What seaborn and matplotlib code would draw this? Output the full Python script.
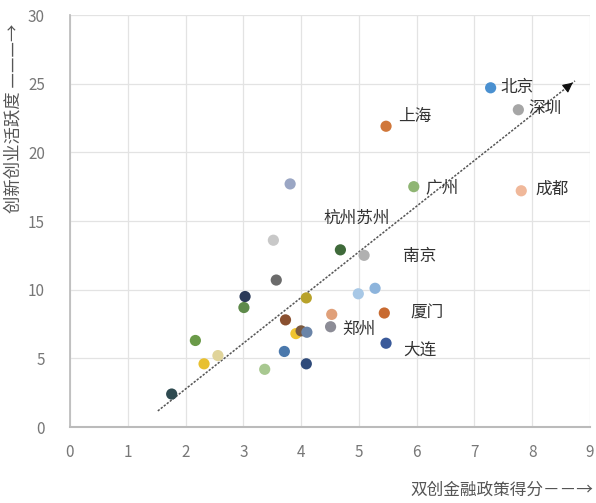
import pandas as pd
import seaborn as sns
import matplotlib.pyplot as plt

# 双创金融政策得分 vs 创新创业活跃度
policy_score = [7.28, 7.76, 5.47, 5.95, 7.81, 3.81, 3.52, 4.68, 5.09, 3.57,
                3.03, 3.01, 4.09, 4.99, 5.28, 3.73, 4.53, 5.44, 3.91, 4.00,
                4.10, 4.51, 3.71, 5.47, 4.09, 2.17, 2.32, 2.56, 3.37, 1.76]
activity = [24.7, 23.1, 21.9, 17.5, 17.2, 17.7, 13.6, 12.9, 12.5, 10.7,
            9.5, 8.7, 9.4, 9.7, 10.1, 7.8, 8.2, 8.3, 6.8, 7.0,
            6.9, 7.3, 5.5, 6.1, 4.6, 6.3, 4.6, 5.2, 4.2, 2.4]
point_colors = ['#4a90d0', '#a6a6a6', '#d0773a', '#8fb573', '#f0b89a', '#9aa6c4',
                '#c8c8c8', '#3f6a3a', '#b0b0b0', '#6b6b6b', '#2b3a58', '#5e8a4a',
                '#b8a22a', '#a8c8e6', '#8db4dc', '#8a5030', '#e0a07a', '#c86a30',
                '#f0c430', '#7a5a40', '#6a84a8', '#8c8c96', '#4a78ac', '#3a5a9a',
                '#2e4a7a', '#6a9a48', '#e8c030', '#e0d49a', '#a8c890', '#2e4a50']

# city labels and where they sit
city_names = ['北京', '深圳', '上海', '广州', '成都', '杭州苏州', '南京', '厦门', '郑州', '大连']
label_x = [7.45, 7.93, 5.68, 6.15, 8.05, 4.38, 5.77, 5.90, 4.72, 5.77]
label_y = [24.7, 23.2, 22.6, 17.4, 17.3, 15.2, 12.4, 8.3, 7.1, 5.6]

# trend arrow end points
trend_x = [1.52, 8.74]
trend_y = [1.17, 25.2]

df = pd.DataFrame({'x': policy_score, 'y': activity, 'id': range(len(policy_score))})

sns.set_theme(style='white')
plt.rcParams['font.family'] = ['Noto Sans CJK SC', 'DejaVu Sans']

fig = plt.figure(figsize=(5.96, 5.03), dpi=100)
ax = fig.add_axes([70 / 596, 1 - 427 / 503, 520 / 596, (427 - 15) / 503])

ax.plot(trend_x, trend_y, color='#555555', lw=1.1, ls=(0, (1.5, 1)), zorder=2)
ax.annotate('', xy=(trend_x[1], trend_y[1]), xytext=(trend_x[1] - 0.12, trend_y[1] - 0.4),
            arrowprops=dict(arrowstyle='-|>', color='#111111', lw=0.8, mutation_scale=15),
            zorder=4)

sns.scatterplot(data=df, x='x', y='y', hue='id', palette=point_colors,
                s=65, edgecolor='none', legend=False, ax=ax, zorder=3)

for name, lx, ly in zip(city_names, label_x, label_y):
    ax.text(lx, ly, name, fontsize=12, color='#333333', va='center', ha='left')

ax.set_xlim(0, 9)
ax.set_ylim(0, 30)
ax.set_xticks(range(0, 10))
ax.set_yticks(range(0, 31, 5))
ax.grid(True, color='#e3e3e3', lw=0.9)
ax.set_axisbelow(True)
ax.set_xlabel('')
ax.set_ylabel('')
ax.tick_params(axis='both', colors='#777777', labelsize=11, length=0)
ax.tick_params(axis='x', pad=12)
ax.tick_params(axis='y', pad=18)
for side in ['top', 'right']:
    ax.spines[side].set_visible(False)
ax.spines['left'].set_color('#bbbbbb')
ax.spines['bottom'].set_color('#bbbbbb')
ax.spines['bottom'].set_linewidth(1.5)

fig.text(14 / 596, 1 - 118 / 503, '创新创业活跃度 ———→', rotation=90,
         ha='center', va='center', fontsize=12.5, color='#555555')
fig.text(593 / 596, 1 - 490 / 503, '双创金融政策得分－－→', ha='right', va='center',
         fontsize=12, color='#555555')

fig.savefig('out.png', dpi=100)
